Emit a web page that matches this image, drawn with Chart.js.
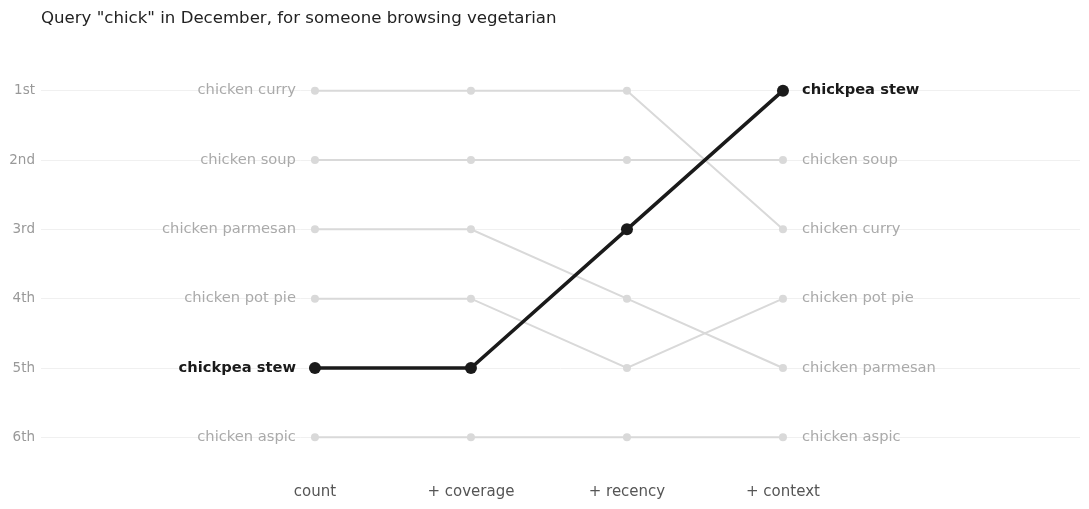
<!DOCTYPE html>
<html>
<head>
<meta charset="utf-8">
<title>Bump chart</title>
<script src="https://cdn.jsdelivr.net/npm/chart.js@4/dist/chart.umd.min.js"></script>
<style>
    html, body { margin: 0; padding: 0; background: #fff; }
    #wrap { width: 1089px; height: 509px; }
</style>
</head>
<body>
<div id="wrap"><canvas id="bumpChart"></canvas></div>
<script>
// data
var titleText = 'Query "chick" in December, for someone browsing vegetarian';
var stages = ['count', '+ coverage', '+ recency', '+ context'];
var rankLabels = ['1st', '2nd', '3rd', '4th', '5th', '6th'];

var dishes = ['chicken curry', 'chicken soup', 'chicken parmesan', 'chicken pot pie', 'chickpea stew', 'chicken aspic'];
var curryRanks = [1, 1, 1, 3];
var soupRanks = [2, 2, 2, 2];
var parmesanRanks = [3, 3, 4, 5];
var potPieRanks = [4, 4, 5, 4];
var stewRanks = [5, 5, 3, 1];
var aspicRanks = [6, 6, 6, 6];
var highlighted = 'chickpea stew';

var allRanks = [curryRanks, soupRanks, parmesanRanks, potPieRanks, stewRanks, aspicRanks];

var font = '"DejaVu Sans", sans-serif';
var grey = '#d9d9d9';
var dark = '#1a1a1a';

function toPoints(ranks) {
    return ranks.map(function (r, i) { return { x: i, y: r }; });
}

var datasets = dishes.map(function (name, i) {
    var hi = name === highlighted;
    return {
        label: name,
        data: toPoints(allRanks[i]),
        borderColor: hi ? dark : grey,
        backgroundColor: hi ? dark : grey,
        borderWidth: hi ? 3.5 : 2,
        pointRadius: hi ? 6 : 4,
        pointHoverRadius: hi ? 6 : 4,
        pointBorderWidth: 0,
        order: hi ? 0 : 1,
        clip: false
    };
});

// names at both ends of each line, plus the title
var endLabels = {
    id: 'endLabels',
    afterDatasetsDraw: function (chart) {
        var ctx = chart.ctx;
        var xs = chart.scales.x, ys = chart.scales.y;
        ctx.save();
        ctx.textBaseline = 'middle';
        chart.data.datasets.forEach(function (ds) {
            var hi = ds.label === highlighted;
            ctx.font = (hi ? 'bold ' : '') + '14.7px ' + font;
            ctx.fillStyle = hi ? dark : '#aaaaaa';
            var first = ds.data[0], last = ds.data[ds.data.length - 1];
            ctx.textAlign = 'right';
            ctx.fillText(ds.label, xs.getPixelForValue(first.x) - 19, ys.getPixelForValue(first.y));
            ctx.textAlign = 'left';
            ctx.fillText(ds.label, xs.getPixelForValue(last.x) + 19, ys.getPixelForValue(last.y));
        });
        ctx.font = '16.6px ' + font;
        ctx.fillStyle = '#222222';
        ctx.textAlign = 'left';
        ctx.fillText(titleText, chart.chartArea.left, 19);
        ctx.restore();
    }
};

var bumpChart = new Chart(document.getElementById('bumpChart'), {
    type: 'line',
    data: { datasets: datasets },
    plugins: [endLabels],
    options: {
        responsive: true,
        maintainAspectRatio: false,
        animation: false,
        layout: { padding: { top: 56, right: 9, bottom: 8, left: 0 } },
        plugins: {
            legend: { display: false },
            tooltip: { enabled: false }
        },
        scales: {
            x: {
                type: 'linear',
                min: -1.756,
                max: 4.904,
                afterBuildTicks: function (scale) {
                    scale.ticks = stages.map(function (s, i) { return { value: i }; });
                },
                afterFit: function (scale) { scale.height = 29; },
                ticks: {
                    callback: function (v) { return stages[v]; },
                    color: '#555555',
                    font: { family: font, size: 15 },
                    padding: 11,
                    maxRotation: 0,
                    autoSkip: false
                },
                grid: { display: false, drawTicks: false },
                border: { display: false }
            },
            y: {
                type: 'linear',
                reverse: true,
                min: 0.5,
                max: 6.5,
                afterBuildTicks: function (scale) {
                    scale.ticks = rankLabels.map(function (s, i) { return { value: i + 1 }; });
                },
                afterFit: function (scale) { scale.width = 41; },
                ticks: {
                    callback: function (v) { return rankLabels[v - 1]; },
                    color: '#999999',
                    font: { family: font, size: 13.5 },
                    padding: 6
                },
                grid: { color: '#f0f0f0', lineWidth: 1, drawTicks: false },
                border: { display: false }
            }
        }
    }
});
</script>
</body>
</html>
